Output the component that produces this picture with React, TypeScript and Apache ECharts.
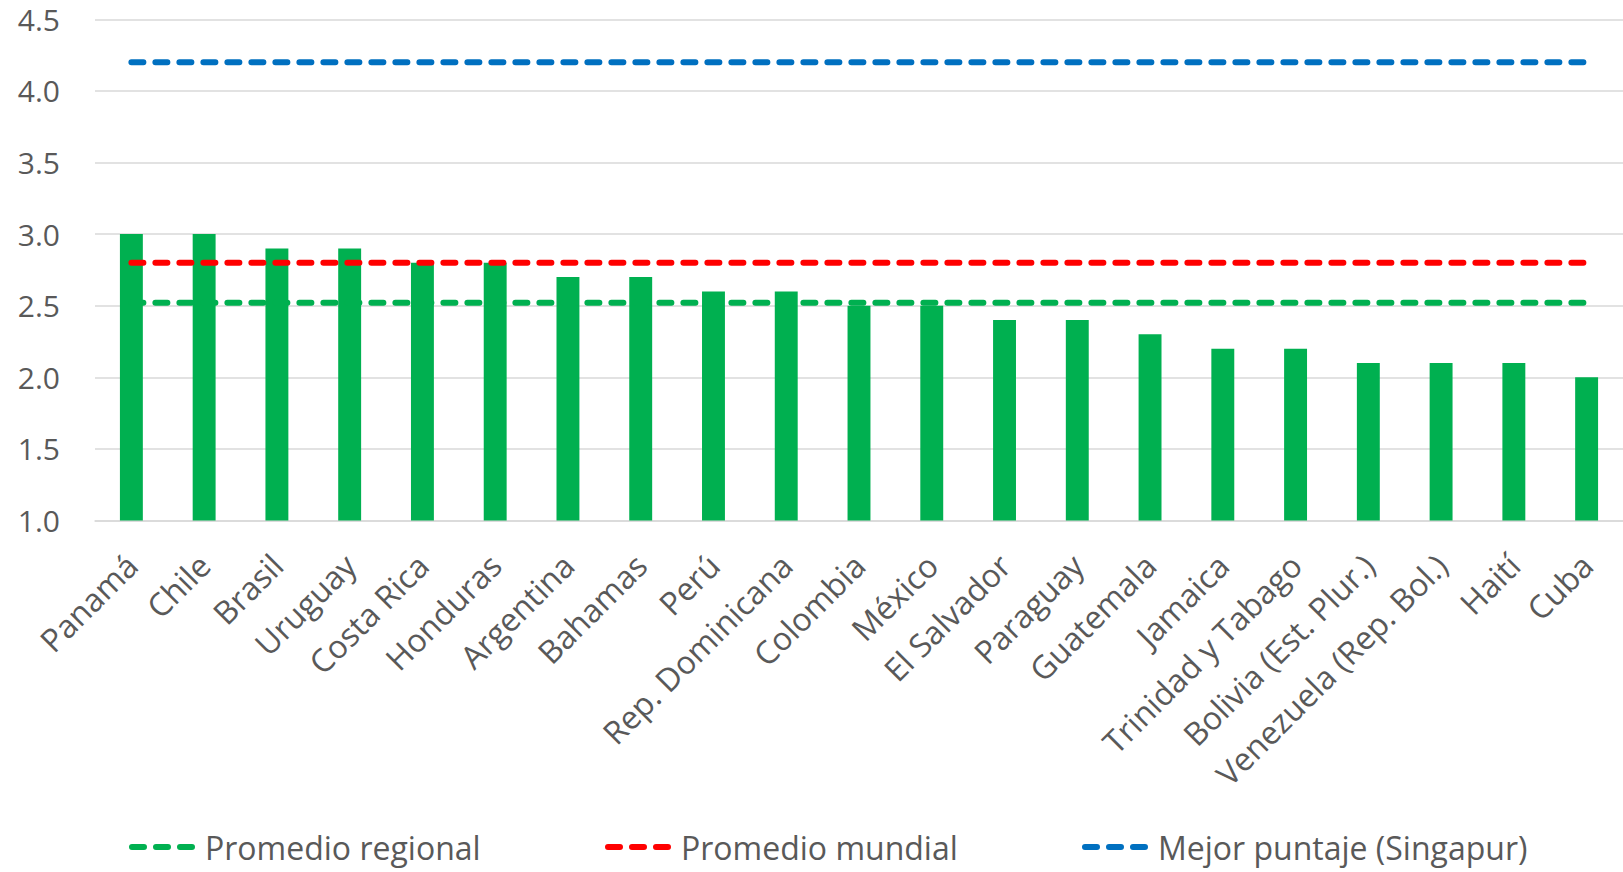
import React, { useEffect, useRef } from "react";
import * as echarts from "echarts";

const categories = [
  "Panamá", "Chile", "Brasil", "Uruguay", "Costa Rica", "Honduras", "Argentina",
  "Bahamas", "Perú", "Rep. Dominicana", "Colombia", "México", "El Salvador",
  "Paraguay", "Guatemala", "Jamaica", "Trinidad y Tabago", "Bolivia (Est. Plur.)",
  "Venezuela (Rep. Bol.)", "Haití", "Cuba",
];
const scores = [3.0, 3.0, 2.9, 2.9, 2.8, 2.8, 2.7, 2.7, 2.6, 2.6, 2.5, 2.5, 2.4, 2.4, 2.3, 2.2, 2.2, 2.1, 2.1, 2.1, 2.0];
const regionalAverage = 2.52;
const worldAverage = 2.8;
const bestScore = 4.2;
const seriesNames = ["Promedio regional", "Promedio mundial", "Mejor puntaje (Singapur)"];
const yMin = 1.0;
const yMax = 4.5;
const yStep = 0.5;

const FONT = "Open Sans";
const TEXT = "#595959";
const GREEN = "#00B050";
const RED = "#FF0000";
const BLUE = "#0070C0";

const DASH_ICON =
  "path://M3,0H15A3,3,0,0,1,15,6H3A3,3,0,0,1,3,0Z" +
  "M27,0H39A3,3,0,0,1,39,6H27A3,3,0,0,1,27,0Z" +
  "M51,0H63A3,3,0,0,1,63,6H51A3,3,0,0,1,51,0Z";

export default function App() {
  const ref = useRef<HTMLDivElement>(null);
  useEffect(() => {
    if (!ref.current) return;
    const chart = echarts.init(ref.current, undefined, { renderer: "svg" });
    const lineVals = [regionalAverage, worldAverage, bestScore];
    const lineColors = [GREEN, RED, BLUE];
    const legendLefts = [129, 605, 1082];
    chart.setOption({
      animation: false,
      backgroundColor: "#ffffff",
      textStyle: { fontFamily: FONT },
      grid: { left: 95, right: 0, top: 19.3, bottom: 351.5, containLabel: false },
      xAxis: {
        type: "category",
        data: categories,
        boundaryGap: true,
        axisLine: { show: true, lineStyle: { color: "#D9D9D9", width: 1.5 } },
        axisTick: { show: false },
        axisLabel: {
          interval: 0,
          rotate: 45,
          margin: 39,
          fontSize: 32,
          color: TEXT,
          fontFamily: FONT,
        },
      },
      yAxis: {
        type: "value",
        min: yMin,
        max: yMax,
        interval: yStep,
        axisLine: { show: false },
        axisTick: { show: false },
        splitLine: { lineStyle: { color: "#D9D9D9", width: 1.5 } },
        axisLabel: {
          margin: 35,
          fontSize: 30,
          lineHeight: 30,
          padding: [6, 0, 0, 0],
          color: TEXT,
          fontFamily: FONT,
          formatter: (v: number) => v.toFixed(1),
        },
      },
      legend: seriesNames.map((n, i) => ({
        data: [{ name: n, icon: DASH_ICON }],
        left: legendLefts[i],
        top: 829,
        padding: 0,
        itemWidth: 66,
        itemHeight: 6,
        itemStyle: { color: lineColors[i] },
        textStyle: {
          fontSize: 32,
          lineHeight: 36,
          color: TEXT,
          fontFamily: FONT,
          padding: [0, 0, 0, 5],
        },
      })),
      series: [
        {
          type: "bar",
          name: "Puntaje",
          data: scores,
          barWidth: "31.5%",
          itemStyle: { color: GREEN },
        },
        ...seriesNames.map((n, i) => ({
          type: "line",
          name: n,
          data: categories.map(() => lineVals[i]),
          symbol: "none",
          lineStyle: { color: lineColors[i], width: 6, type: [12, 12], cap: "round" },
          itemStyle: { color: lineColors[i] },
          z: 3,
        })),
      ],
    });
    return () => chart.dispose();
  }, []);
  return (
    <div
      ref={ref}
      style={{ position: "absolute", left: 0, top: 0, width: 1623, height: 872 }}
    />
  );
}
